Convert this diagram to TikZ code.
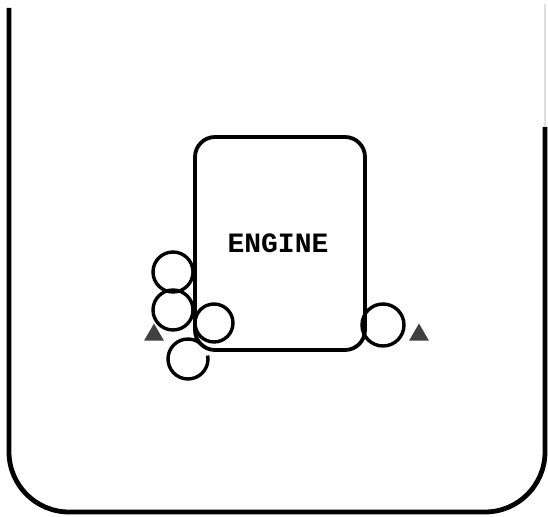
\documentclass[tikz,border=0pt]{standalone}
\usepackage{fontspec}
\newfontfamily\enginefont{Liberation Mono}
\usetikzlibrary{shapes.geometric}

\begin{document}
\begin{tikzpicture}[x=0.5pt,y=-0.5pt,
  rim/.style={line width=2.4pt, rounded corners=30pt},
  engine/.style={draw, line width=1.9pt, rounded corners=10pt, minimum width=85pt, minimum height=106.5pt, font=\enginefont\bfseries\fontsize{14}{16}\selectfont},
  wheel/.style={draw, circle, line width=1.7pt, minimum size=20pt, inner sep=0pt},
  tri/.style={regular polygon, regular polygon sides=3, fill=black!75, minimum size=11.5pt, inner sep=0pt}]
\useasboundingbox (0,0) rectangle (548,517);
\draw[rim] (9,8) -- (9,512) -- (545,512) -- (545,127);
\draw[gray!25, line width=0.6pt] (545,127) -- (545,4);
\node[engine] (eng) at (280,243.5) {\hspace*{-2pt}ENGINE};
\node[wheel] (wa) at (173,272) {};
\node[wheel] (wb) at (173,310) {};
\node[wheel, minimum size=19pt] (wc) at (214,323) {};
\node[wheel, minimum size=21pt] (wr) at (383,325) {};
\coordinate (wd) at (188,359);
\draw[line width=1.7pt] (wd) ++(-10:20) arc[start angle=-10, end angle=315, radius=20];
\node[tri] (tl) at (154,335) {};
\node[tri] (tr) at (419,335) {};
\end{tikzpicture}
\end{document}
